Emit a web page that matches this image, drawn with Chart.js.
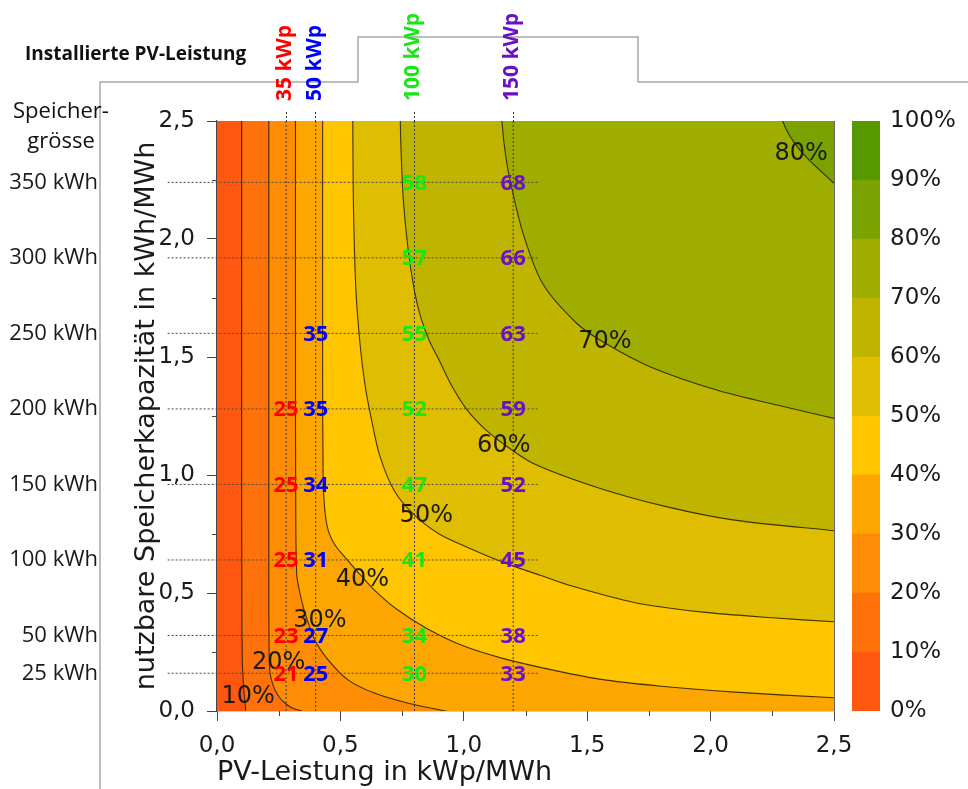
<!DOCTYPE html>
<html>
<head>
<meta charset="utf-8">
<script src="https://cdn.jsdelivr.net/npm/chart.js@4.4.1/dist/chart.umd.min.js"></script>
<style>
    html, body { margin: 0; padding: 0; background: #fff; }
    #wrap { position: relative; width: 968px; height: 789px; overflow: hidden; }
    #main { position: absolute; left: 0; top: 0; }
    #bar { position: absolute; left: 840px; top: 0; }
</style>
</head>
<body>
<div id="wrap">
    <canvas id="main" width="968" height="789"></canvas>
    <canvas id="bar" width="128" height="789"></canvas>
</div>
<script>
/* ======================================
   DATA
====================================== */
const levelNames = ["10%", "20%", "30%", "40%", "50%", "60%", "70%", "80%"];
const bandColors = ["#ff570f", "#ff720b", "#ff8c05", "#fda602", "#fec500",
                    "#dfbd00", "#bfb500", "#9ead00", "#7aa201", "#579700"];

// contour lines, x = kWp/MWh, y = kWh/MWh
const c10x = [0.100, 0.100, 0.100, 0.101, 0.103, 0.108, 0.114, 0.118];
const c10y = [2.60, 2.00, 1.00, 0.40, 0.20, 0.10, 0.03, -0.03];
const c20x = [0.210, 0.210, 0.210, 0.211, 0.215, 0.224, 0.235, 0.255, 0.276, 0.305, 0.343, 0.380];
const c20y = [2.60, 1.50, 0.60, 0.25, 0.16, 0.12, 0.089, 0.055, 0.033, 0.013, 0.0, -0.012];
const c30x = [0.318, 0.318, 0.319, 0.323, 0.336, 0.357, 0.397, 0.451, 0.532, 0.640, 0.775, 0.924, 1.02];
const c30y = [2.60, 1.50, 0.90, 0.58, 0.50, 0.414, 0.30, 0.216, 0.131, 0.075, 0.033, 0.0, -0.02];
const c40x = [0.428, 0.428, 0.430, 0.437, 0.452, 0.48, 0.52, 0.57, 0.64, 0.73, 0.85, 1.0, 1.15, 1.31, 1.55, 1.80, 2.10, 2.50, 2.60];
const c40y = [2.60, 1.50, 1.00, 0.85, 0.76, 0.70, 0.65, 0.59, 0.51, 0.43, 0.35, 0.275, 0.225, 0.185, 0.135, 0.105, 0.08, 0.056, 0.052];
const c50x = [0.550, 0.552, 0.562, 0.58, 0.60, 0.625, 0.66, 0.72, 0.80, 0.90, 1.0, 1.1, 1.2, 1.31, 1.42, 1.69, 1.96, 2.25, 2.50, 2.60];
const c50y = [2.60, 2.20, 1.80, 1.55, 1.38, 1.24, 1.08, 0.93, 0.83, 0.75, 0.70, 0.655, 0.615, 0.575, 0.535, 0.46, 0.42, 0.395, 0.378, 0.372];
const c60x = [0.741, 0.745, 0.755, 0.775, 0.80, 0.825, 0.86, 0.90, 0.95, 1.01, 1.08, 1.15, 1.28, 1.55, 1.82, 2.09, 2.50, 2.60];
const c60y = [2.60, 2.40, 2.165, 1.95, 1.78, 1.67, 1.57, 1.487, 1.38, 1.28, 1.20, 1.14, 1.05, 0.944, 0.866, 0.81, 0.764, 0.755];
const c70x = [1.153, 1.155, 1.17, 1.19, 1.24, 1.32, 1.457, 1.57, 1.754, 2.025, 2.295, 2.50, 2.60];
const c70y = [2.60, 2.494, 2.35, 2.236, 2.024, 1.81, 1.643, 1.56, 1.459, 1.36, 1.29, 1.24, 1.22];
const c80x = [2.290, 2.292, 2.362, 2.50, 2.60];
const c80y = [2.60, 2.50, 2.377, 2.236, 2.14];

const contourX = [c10x, c20x, c30x, c40x, c50x, c60x, c70x, c80x];
const contourY = [c10y, c20y, c30y, c40y, c50y, c60y, c70y, c80y];

// where the % labels sit on the lines
const contourLabelX = [0.126, 0.250, 0.417, 0.589, 0.848, 1.162, 1.572, 2.367];
const contourLabelY = [0.061, 0.205, 0.381, 0.558, 0.827, 1.124, 1.565, 2.363];

// PV columns
const kwpLabels = ["35 kWp", "50 kWp", "100 kWp", "150 kWp"];
const kwpX = [0.28, 0.40, 0.80, 1.20];
const kwpColors = ["#ff0000", "#0000ff", "#19e619", "#6a10c8"];

// storage rows
const storageLabels = ["25 kWh", "50 kWh", "100 kWh", "150 kWh", "200 kWh", "250 kWh", "300 kWh", "350 kWh"];
const storageY = [0.16, 0.32, 0.64, 0.96, 1.28, 1.60, 1.92, 2.24];

// values in the grid, per column (rows 25..350 kWh)
const vals35  = [21, 23, 25, 25, 25, null, null, null];
const vals50  = [25, 27, 31, 34, 35, 35, null, null];
const vals100 = [30, 34, 41, 47, 52, 55, 57, 58];
const vals150 = [33, 38, 45, 52, 59, 63, 66, 68];

const colorbarTicks = [0, 10, 20, 30, 40, 50, 60, 70, 80, 90, 100];


/* ======================================
   HELPERS
====================================== */
const SANS = "'DejaVu Sans', Verdana, sans-serif";
const OPEN = "'Open Sans', sans-serif";
const fmt = v => v.toFixed(1).replace(".", ",");

function toPoints(xs, ys) {
    return xs.map((x, i) => ({ x: x, y: ys[i] }));
}


/* ======================================
   DATASETS
====================================== */
const datasets = [];

// lowest band covers the whole plot
datasets.push({
    data: [{ x: -0.1, y: -0.1 }, { x: 2.7, y: -0.1 }, { x: 2.7, y: 2.7 }, { x: -0.1, y: 2.7 }],
    backgroundColor: bandColors[0],
    borderWidth: 0,
    fill: "shape",
    tension: 0,
    order: 30
});

// each band above a contour line
contourX.forEach((xs, k) => {
    const pts = toPoints(xs, contourY[k]);
    const first = pts[0];
    const last = pts[pts.length - 1];
    pts.push({ x: 2.7, y: last.y < 0 ? -0.1 : last.y });
    pts.push({ x: 2.7, y: 2.7 });
    pts.push({ x: first.x, y: 2.7 });
    datasets.push({
        data: pts,
        backgroundColor: bandColors[k + 1],
        borderWidth: 0,
        fill: "shape",
        tension: 0.3,
        order: 29 - k
    });
});

// contour lines
contourX.forEach((xs, k) => {
    datasets.push({
        data: toPoints(xs, contourY[k]),
        borderColor: "rgba(35,28,0,0.85)",
        borderWidth: 1.1,
        fill: false,
        tension: 0.3,
        order: 5
    });
});

// dotted column lines
kwpX.forEach(x => {
    datasets.push({
        data: [{ x: x, y: 0 }, { x: x, y: 2.5 }],
        borderColor: "#3a3a3a",
        borderWidth: 1,
        borderDash: [2, 2],
        fill: false,
        tension: 0,
        order: 4
    });
});

// dotted row lines (run out past the axis)
storageY.forEach(y => {
    datasets.push({
        data: [{ x: -0.2, y: y }, { x: 1.3, y: y }],
        borderColor: "#4a4a4a",
        borderWidth: 1,
        borderDash: [2, 2],
        fill: false,
        tension: 0,
        clip: false,
        order: 4
    });
});


/* ======================================
   TEXT / DECORATION PLUGIN
====================================== */
const overlayPlugin = {
    id: "overlay",
    afterDatasetsDraw(chart) {
        const { ctx, scales } = chart;
        const x = scales.x, y = scales.y;
        ctx.save();
        ctx.textAlign = "center";
        ctx.textBaseline = "middle";

        // % labels on the contour lines
        ctx.font = "24px " + SANS;
        ctx.fillStyle = "#1a1a1a";
        contourLabelX.forEach((v, i) => {
            ctx.fillText(levelNames[i], x.getPixelForValue(v), y.getPixelForValue(contourLabelY[i]));
        });

        // coloured values at the grid crossings
        ctx.font = "bold 22px " + OPEN;
        [vals35, vals50, vals100, vals150].forEach((col, ci) => {
            ctx.fillStyle = kwpColors[ci];
            col.forEach((v, ri) => {
                if (v === null) return;
                ctx.fillText(String(v), x.getPixelForValue(kwpX[ci]), y.getPixelForValue(storageY[ri]) + 1);
            });
        });
        ctx.restore();
    },
    afterDraw(chart) {
        const { ctx, chartArea, scales } = chart;
        const x = scales.x, y = scales.y;
        ctx.save();

        // minor ticks
        ctx.strokeStyle = "#444";
        ctx.lineWidth = 1;
        ctx.beginPath();
        [0.25, 0.75, 1.25, 1.75, 2.25].forEach(v => {
            const px = Math.round(x.getPixelForValue(v)) + 0.5;
            ctx.moveTo(px, chartArea.bottom);
            ctx.lineTo(px, chartArea.bottom + 5);
            const py = Math.round(y.getPixelForValue(v)) + 0.5;
            ctx.moveTo(chartArea.left, py);
            ctx.lineTo(chartArea.left - 5, py);
        });
        ctx.stroke();

        // right frame
        ctx.strokeStyle = "#666";
        ctx.beginPath();
        ctx.moveTo(chartArea.right + 0.5, chartArea.top);
        ctx.lineTo(chartArea.right + 0.5, chartArea.bottom);
        ctx.stroke();

        // grey page frame
        ctx.strokeStyle = "#a8a8a8";
        ctx.lineWidth = 1.5;
        ctx.beginPath();
        ctx.moveTo(100, 789);
        ctx.lineTo(100, 82);
        ctx.lineTo(358, 82);
        ctx.lineTo(358, 37);
        ctx.lineTo(638, 37);
        ctx.lineTo(638, 82);
        ctx.lineTo(968, 82);
        ctx.stroke();

        // rotated PV labels above the columns
        ctx.font = "bold 21px " + OPEN;
        ctx.textAlign = "left";
        ctx.textBaseline = "middle";
        kwpX.forEach((v, i) => {
            ctx.save();
            ctx.translate(scales.xT.getPixelForValue(v) - 1, 101);
            ctx.rotate(-Math.PI / 2);
            ctx.fillStyle = kwpColors[i];
            ctx.fillText(kwpLabels[i], 0, 0);
            ctx.restore();
        });

        // headers
        ctx.fillStyle = "#111";
        ctx.textBaseline = "middle";
        ctx.textAlign = "left";
        ctx.font = "bold 19px " + OPEN;
        ctx.fillText("Installierte PV-Leistung", 25, 55);
        ctx.textAlign = "center";
        ctx.font = "22px " + OPEN;
        ctx.fillText("Speicher-", 61, 112);
        ctx.fillText("grösse", 61, 142);
        ctx.restore();
    }
};


/* ======================================
   MAIN CHART
====================================== */
new Chart(document.getElementById("main"), {
    type: "line",
    data: { datasets: datasets },
    plugins: [overlayPlugin],
    options: {
        responsive: false,
        animation: false,
        events: [],
        layout: { padding: { left: 0, right: 134, top: 0, bottom: 0 } },
        elements: {
            point: { radius: 0 },
            line: { capBezierPoints: false }
        },
        plugins: { legend: { display: false }, tooltip: { enabled: false } },
        scales: {
            x: {
                type: "linear",
                position: "bottom",
                min: 0, max: 2.5,
                z: 1,
                ticks: { stepSize: 0.5, callback: v => fmt(v), font: { family: SANS, size: 23 }, color: "#1a1a1a", padding: 11 },
                grid: { drawOnChartArea: false, tickLength: 10, tickColor: "#444" },
                border: { color: "#444", width: 1.2 },
                title: { display: true, text: "PV-Leistung in kWp/MWh", align: "start", font: { family: SANS, size: 27 }, color: "#1a1a1a", padding: { top: 0, bottom: 0 } },
                afterFit(s) { s.height = 78; }
            },
            xT: {
                type: "linear",
                position: "top",
                min: 0, max: 2.5,
                z: 1,
                afterBuildTicks(s) { s.ticks = kwpX.map(v => ({ value: v })); },
                ticks: { display: false },
                grid: { drawOnChartArea: false, tickLength: 9, tickColor: "#333", tickBorderDash: [2, 2] },
                border: { color: "#666" },
                afterFit(s) { s.height = 121; }
            },
            y: {
                type: "linear",
                position: "left",
                min: 0, max: 2.5,
                weight: 0,
                z: 1,
                ticks: { stepSize: 0.5, callback: v => fmt(v), font: { family: SANS, size: 23 }, color: "#1a1a1a", padding: 12 },
                grid: { drawOnChartArea: false, tickLength: 10, tickColor: "#444" },
                border: { color: "#444", width: 1.2 },
                title: { display: true, text: "nutzbare Speicherkapazität in kWh/MWh", font: { family: SANS, size: 27 }, color: "#1a1a1a", padding: { top: 31, bottom: 0 } },
                afterFit(s) { s.width = 117; }
            },
            yS: {
                type: "linear",
                position: "left",
                min: 0, max: 2.5,
                weight: 1,
                afterBuildTicks(s) { s.ticks = storageY.map(v => ({ value: v })); },
                ticks: {
                    autoSkip: false,
                    callback: (v, i) => storageLabels[i],
                    font: { family: OPEN, size: 22 },
                    color: "#1a1a1a",
                    padding: 2
                },
                grid: { display: false, drawTicks: false },
                border: { display: false },
                afterFit(s) { s.width = 100; }
            }
        }
    }
});


/* ======================================
   COLOUR BAR
====================================== */
new Chart(document.getElementById("bar"), {
    type: "bar",
    data: {
        labels: [""],
        datasets: bandColors.map(c => ({
            data: [10],
            backgroundColor: c,
            borderWidth: 0,
            barPercentage: 1,
            categoryPercentage: 1
        }))
    },
    options: {
        responsive: false,
        animation: false,
        events: [],
        layout: { padding: { left: 12, right: 0, top: 121, bottom: 78 } },
        plugins: { legend: { display: false }, tooltip: { enabled: false } },
        scales: {
            x: { display: false, stacked: true },
            y: {
                position: "right",
                stacked: true,
                min: 0, max: 100,
                afterBuildTicks(s) { s.ticks = colorbarTicks.map(v => ({ value: v })); },
                ticks: { callback: v => v + "%", font: { family: SANS, size: 23 }, color: "#1a1a1a", padding: 10 },
                grid: { display: false, drawTicks: false },
                border: { display: false },
                afterFit(s) { s.width = 88; }
            }
        }
    }
});
</script>
</body>
</html>
